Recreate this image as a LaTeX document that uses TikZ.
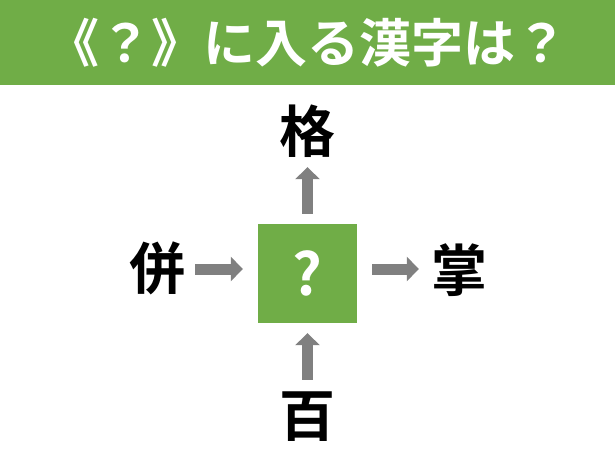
\documentclass[tikz,border=0pt]{standalone}
\usepackage{fontspec}
\newfontfamily\jpfont{Noto Sans CJK JP Bold}
\usetikzlibrary{arrows.meta}
\definecolor{qgreen}{HTML}{70AD47}
\definecolor{arrgray}{HTML}{808080}
\tikzset{
	kanji/.style={font=\jpfont\fontsize{56}{56}\selectfont, inner sep=0pt, text height=45pt, text depth=4pt},
	arr/.style={draw=arrgray, line width=11pt, -{Triangle[length=12pt, width=24pt]}}
}
\begin{document}
\begin{tikzpicture}[x=1pt, y=-1pt]
	\useasboundingbox (0,0) rectangle (615,462);
	\fill[qgreen] (0,0) rectangle (615,85);
	\node at (307,43) [font=\jpfont\fontsize{52}{52}\selectfont, text=white, inner sep=0pt] (title) {《？》に入る漢字は？};
	\node at (307.5,273.5) [fill=qgreen, minimum size=99pt, inner sep=0pt, font=\jpfont\fontsize{58}{58}\selectfont, text=white] (q) {?};
	\node at (307.5,132) [kanji] (t) {格};
	\node at (307.5,416) [kanji] (b) {百};
	\node at (157,269) [kanji] (l) {併};
	\node at (459,271) [kanji] (r) {掌};
	
	\draw [arr, shorten <=10pt, shorten >=15pt] (l.east) -- (l.east -| q.west);
	\draw [arr, shorten <=15pt, shorten >=12pt] (q.east |- l) -- (r.west |- l);
	\draw [arr, shorten <=10pt, shorten >=10.5pt] (q.north) -- (t.south);
	\draw [arr, shorten <=11.5pt, shorten >=10pt] (b.north) -- (q.south);
\end{tikzpicture}
\end{document}
